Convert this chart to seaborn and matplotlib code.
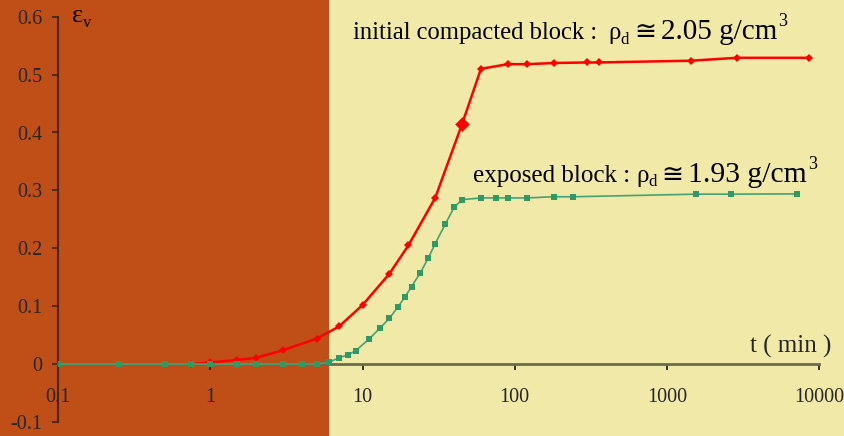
import matplotlib
matplotlib.use("Agg")
import matplotlib.pyplot as plt
import seaborn as sns
from matplotlib.patches import Rectangle

# ---------------- data ----------------
red_t = [0.75, 1, 1.5, 2, 3, 5, 7, 10, 15, 20, 30, 45, 60, 90, 120, 180, 300, 360, 1440, 2880, 8640]
red_e = [0.0, 0.003, 0.007, 0.011, 0.024, 0.044, 0.065, 0.102, 0.156, 0.205, 0.287, 0.414,
         0.510, 0.518, 0.518, 0.520, 0.521, 0.521, 0.524, 0.529, 0.529]

green_t = [0.1, 0.25, 0.5, 0.75, 1, 1.5, 2, 3, 4, 5, 6, 7, 8, 9, 11, 13, 15, 17, 19, 21, 24, 27, 30,
           35, 40, 45, 60, 75, 90, 120, 180, 240, 1560, 2640, 7200]
green_e = [0, 0, 0, 0, 0, 0, 0, 0, 0, 0, 0.003, 0.011, 0.016, 0.023, 0.043, 0.062, 0.079, 0.098,
           0.116, 0.134, 0.158, 0.183, 0.208, 0.242, 0.271, 0.284, 0.287, 0.287, 0.287, 0.287,
           0.289, 0.289, 0.2935, 0.2935, 0.294]

highlight_t = 45          # enlarged marker on the red curve
shade_end = 6             # brown zone: 0 .. 6 min

x_ticks = [0.1, 1, 10, 100, 1000, 10000]
x_labels = ["0.1", "1", "10", "100", "1000", "10000"]
y_ticks = [-0.1, 0, 0.1, 0.2, 0.3, 0.4, 0.5, 0.6]
y_labels = ["-0.1", "0", "0.1", "0.2", "0.3", "0.4", "0.5", "0.6"]

label_red = ["initial compacted block :", "ρ", "d", "≅", "2.05 g/cm", "3"]
label_green = ["exposed block :", "ρ", "d", "≅", "1.93 g/cm", "3"]

# ---------------- style ----------------
YELLOW = "#F1E9A7"
BROWN = "#BF4F16"
RED = "#FF0000"
GREEN = "#2F9A66"
GREEN_LINE = "#45A274"
FAMILY = ["Liberation Serif", "DejaVu Serif", "DejaVu Sans", "Noto Sans"]

sns.set_theme(style="white")
plt.rcParams["font.family"] = FAMILY

W, H = 844, 436
fig = plt.figure(figsize=(W / 100, H / 100), dpi=100, facecolor=YELLOW)
ax = fig.add_axes([58.3 / W, (H - 422) / H, (819 - 58.3) / W, (422 - 16.7) / H])
ax.set_facecolor("none")

ax.set_xscale("log")
ax.set_xlim(0.1, 10000)
ax.set_ylim(-0.1, 0.6)

sns.lineplot(x=red_t, y=red_e, ax=ax, color=RED, linewidth=1.8, marker="D",
             markersize=4.5, markeredgewidth=0, sort=False, zorder=3)
hi = red_t.index(highlight_t)
sns.scatterplot(x=[red_t[hi]], y=[red_e[hi]], ax=ax, color=RED, marker="D", s=55,
                linewidth=0, zorder=3.5)
sns.lineplot(x=green_t, y=green_e, ax=ax, color=GREEN_LINE, linewidth=1.2, marker="s",
             markersize=4.5, markerfacecolor=GREEN, markeredgewidth=0, sort=False, zorder=4)

# axes styling
for s in ("top", "right"):
    ax.spines[s].set_visible(False)
ax.spines["left"].set_color("#4A2408")
ax.spines["left"].set_linewidth(1.5)
ax.spines["bottom"].set_position(("data", 0))
ax.spines["bottom"].set_color("#6E6A50")
ax.spines["bottom"].set_linewidth(2)

ax.set_xticks(x_ticks, x_labels)
ax.xaxis.set_minor_locator(matplotlib.ticker.NullLocator())
ax.set_yticks(y_ticks, y_labels)
ax.tick_params(axis="x", which="major", direction="out", length=4.5, width=1.3,
               color="#222222", pad=13, labelsize=14.5, bottom=True)
ax.tick_params(axis="y", which="major", direction="out", length=4.5, width=1.3,
               color="#4A2408", pad=7, labelsize=14.5, left=True)
ax.set_xlabel("")
ax.set_ylabel("")
ax.grid(False)

# brown shaded zone from figure left edge to t = shade_end
disp = ax.transData.transform((shade_end, 0))
fx = fig.transFigure.inverted().transform(disp)[0]
fig.patches.append(Rectangle((0, 0), fx, 1, transform=fig.transFigure,
                             facecolor=BROWN, edgecolor="none", zorder=-10))

# ---------------- texts ----------------
fig.canvas.draw()
renderer = fig.canvas.get_renderer()


def chain(x_px, base_px, pieces):
    x = x_px
    for s, size, gap, dy in pieces:
        x += gap
        t = fig.text(x / W, (H - base_px + dy) / H, s, fontsize=size, family=FAMILY,
                     ha="left", va="baseline", color="black")
        x = t.get_window_extent(renderer).x1


chain(353, 39, list(zip(label_red, [17.7, 17.7, 12, 19, 21, 13], [0, 11, 0, 5, 5, 1],
                        [0, 0, -4.5, 0, 0, 13])))
chain(473, 182, list(zip(label_green, [18, 18, 12, 19, 21.3, 13], [0, 6, 0, 4, 5, 1],
                         [0, 0, -4.5, 0, 0, 13])))
chain(72, 22, [("ε", 19, 0, 0), ("v", 12, 0, -5)])
fig.text(750 / W, (H - 353) / H, "t ( min )", fontsize=18, ha="left", va="baseline")

fig.savefig("out.png", dpi=100, facecolor=YELLOW)
